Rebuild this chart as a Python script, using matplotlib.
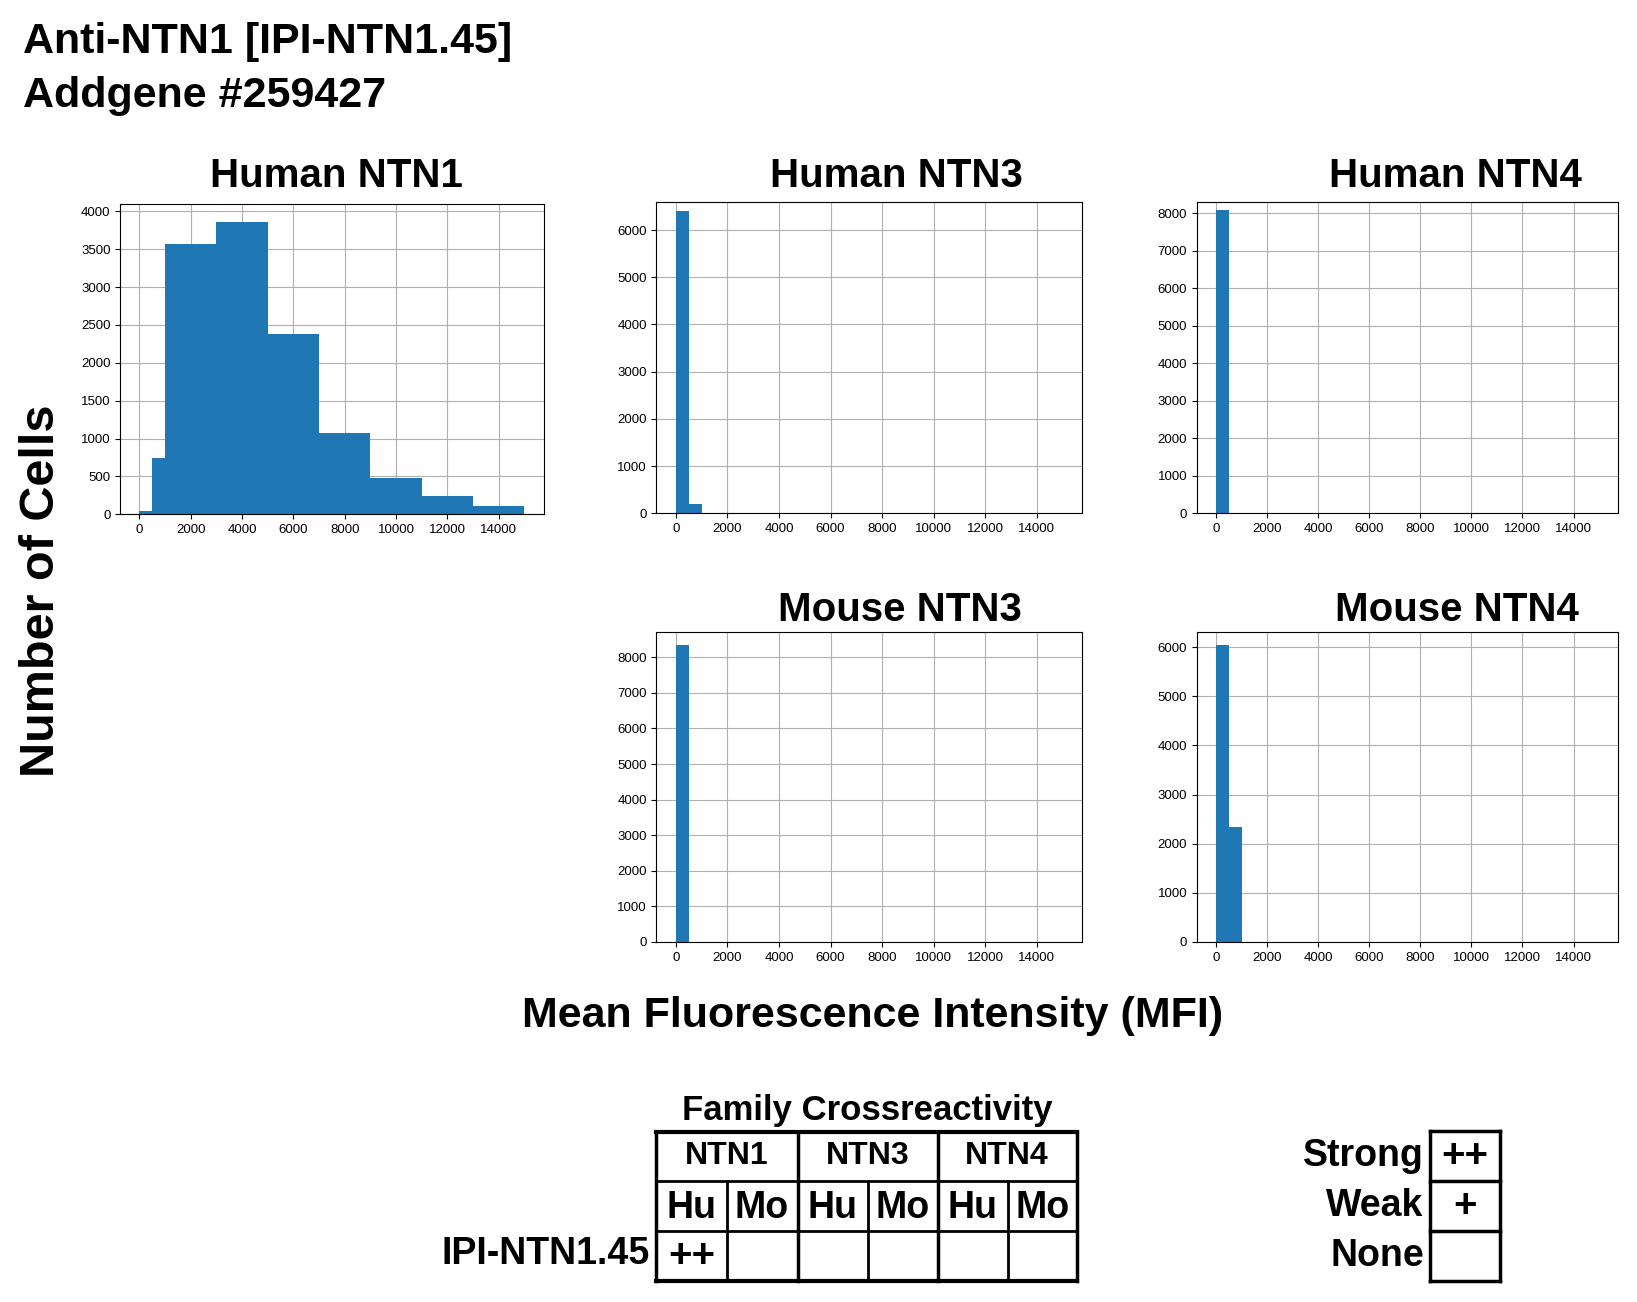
import matplotlib
matplotlib.use("Agg")
import matplotlib.pyplot as plt
import numpy as np

plt.rcParams['font.family'] = ['Liberation Sans', 'DejaVu Sans']

W, H = 1637, 1302
S = 1637 / 1566
ntn1_edges = [0, 500, 1000, 3000, 5000, 7000, 9000, 11000, 13000, 15000]
ntn1_counts = [50, 750, 3570, 3860, 2380, 1070, 480, 240, 110]
fine_edges = np.arange(0, 15001, 500)
human_ntn3 = {0: 6400, 1: 200}
human_ntn4 = {0: 8070}
mouse_ntn3 = {0: 8350}
mouse_ntn4 = {0: 6050, 1: 2330}

titles = ["Human NTN1", "Human NTN3", "Human NTN4", "Mouse NTN3", "Mouse NTN4"]
boxes = [(115, 195, 520, 492), (628, 193, 1035, 491), (1145, 193, 1548, 491),
         (628, 605, 1035, 901), (1145, 605, 1548, 901)]
title_pos = [(322, 168), (858, 168), (1392, 168), (861, 584), (1394, 584)]
ylims = [4100, 6600, 8300, 8700, 6300]
yticks = [np.arange(0, 4001, 500), np.arange(0, 6001, 1000), np.arange(0, 8001, 1000),
          np.arange(0, 8001, 1000), np.arange(0, 6001, 1000)]

fig = plt.figure(figsize=(W/100, H/100), dpi=100)

def X(x): return x * S / W
def Y(y): return 1 - y * S / H

def ax_at(x0, y0, x1, y1):
    return fig.add_axes([X(x0), Y(y1), X(x1) - X(x0), Y(y0) - Y(y1)])

for i, (t, b) in enumerate(zip(titles, boxes)):
    ax = ax_at(*b)
    ax.set_axisbelow(True)
    ax.grid(True, color='#b0b0b0', lw=0.8)
    if i == 0:
        edges = ntn1_edges
        counts = ntn1_counts
    else:
        d = [human_ntn3, human_ntn4, mouse_ntn3, mouse_ntn4][i-1]
        edges = fine_edges
        counts = [d.get(k, 0) for k in range(len(fine_edges)-1)]
    centers = [(edges[k]+edges[k+1])/2 for k in range(len(counts))]
    ax.hist(centers, bins=edges, weights=counts, color='#1f77b4')
    ax.set_xlim(-750, 15750)
    ax.set_ylim(0, ylims[i])
    ax.set_xticks(np.arange(0, 14001, 2000))
    ax.set_yticks(yticks[i])
    ax.tick_params(labelsize=9.5)
    tx_, ty_ = title_pos[i]
    fig.text(X(tx_), Y(ty_), t, fontsize=29, fontweight='bold', ha='center', va='center')

fig.text(X(22), Y(40), "Anti-NTN1 [IPI-NTN1.45]", fontsize=31, fontweight='bold', va='center')
fig.text(X(22), Y(92), "Addgene #259427", fontsize=31, fontweight='bold', va='center')
fig.text(X(40), Y(565), "Number of Cells", fontsize=35, fontweight='bold', rotation=90, va='center', ha='center')
fig.text(X(835), Y(972), "Mean Fluorescence Intensity (MFI)", fontsize=31, fontweight='bold', va='center', ha='center')

fig.text(X(830), Y(1062), "Family Crossreactivity", fontsize=25, fontweight='bold', ha='center', va='center')
tx = [628, 695, 763, 830, 897, 964, 1030]
ty = [1083, 1130, 1178, 1225]
def hline(x0, x1, y, lw=2):
    fig.add_artist(plt.Line2D([X(x0), X(x1)], [Y(y), Y(y)], color='black', lw=lw))
def vline(x, y0, y1, lw=2):
    fig.add_artist(plt.Line2D([X(x), X(x)], [Y(y0), Y(y1)], color='black', lw=lw))
for y in ty:
    hline(tx[0], tx[-1], y, 3 if y in (1083, 1225) else 2)
for j, x in enumerate(tx):
    if j % 2 == 0:
        vline(x, ty[0], ty[-1], 2.5)
    else:
        vline(x, ty[1], ty[-1], 2)
families = ["NTN1", "NTN3", "NTN4"]
species = ["Hu", "Mo"]
row_vals = ["++", "", "", "", "", ""]
for k, f in enumerate(families):
    fig.text(X((tx[2*k]+tx[2*k+2])/2), Y(1106), f, fontsize=23, fontweight='bold', ha='center', va='center')
for j in range(6):
    fig.text(X((tx[j]+tx[j+1])/2), Y(1156), species[j % 2], fontsize=27, fontweight='bold', ha='center', va='center')
    fig.text(X((tx[j]+tx[j+1])/2), Y(1202), row_vals[j], fontsize=29, fontweight='bold', ha='center', va='center')
fig.text(X(622), Y(1200), "IPI-NTN1.45", fontsize=27, fontweight='bold', ha='right', va='center')

lx = [1368, 1435]
ly = [1082, 1130, 1178, 1225]
for y in ly:
    hline(lx[0], lx[1], y, 2.5)
for x in lx:
    vline(x, ly[0], ly[-1], 2.5)
leg_labels = ["Strong", "Weak", "None"]
leg_syms = ["++", "+", ""]
for k in range(3):
    yc = (ly[k]+ly[k+1])/2
    fig.text(X(1362), Y(yc), leg_labels[k], fontsize=27, fontweight='bold', ha='right', va='center')
    fig.text(X((lx[0]+lx[1])/2), Y(yc), leg_syms[k], fontsize=29, fontweight='bold', ha='center', va='center')

fig.savefig("out.png", dpi=100)
